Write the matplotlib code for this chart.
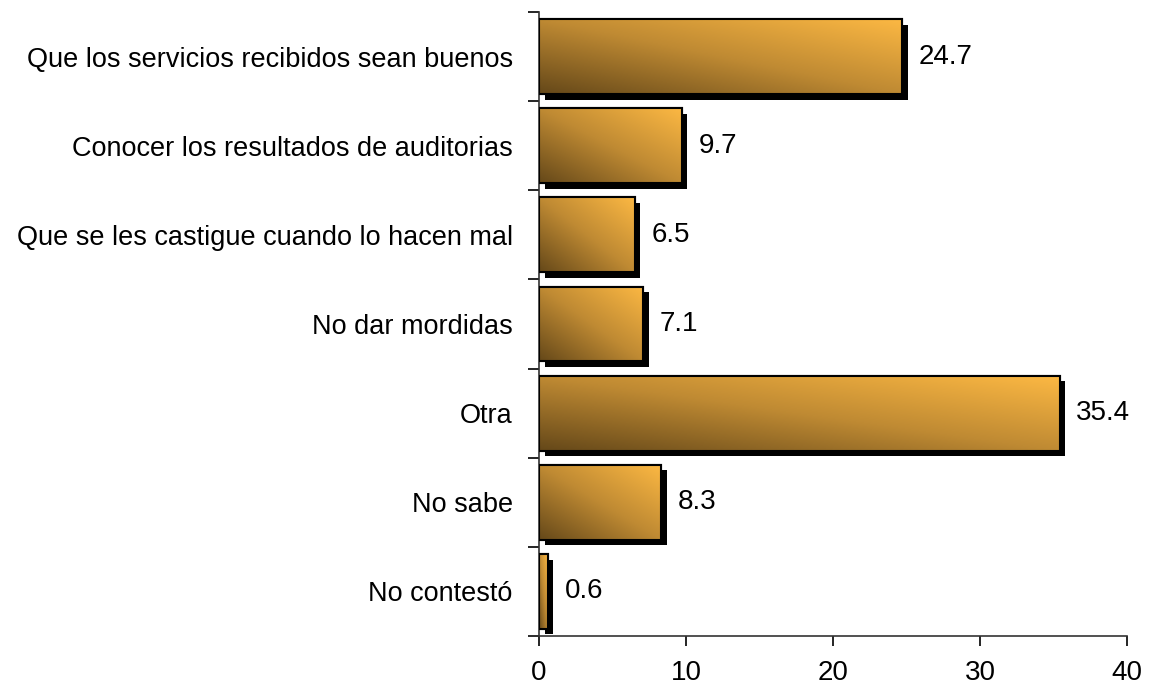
import matplotlib
matplotlib.use("Agg")
import matplotlib.pyplot as plt
import matplotlib.patheffects as pe
from matplotlib.colors import LinearSegmentedColormap
import numpy as np

plt.rcParams['font.family'] = ['Liberation Sans', 'DejaVu Sans']

# data
categories = ['Que los servicios recibidos sean buenos',
              'Conocer los resultados de auditorias',
              'Que se les castigue cuando lo hacen mal',
              'No dar mordidas',
              'Otra',
              'No sabe',
              'No contestó']
values = [24.7, 9.7, 6.5, 7.1, 35.4, 8.3, 0.6]
x_ticks = [0, 10, 20, 30, 40]

fig = plt.figure(figsize=(11.57, 6.87), dpi=100)
ax = fig.add_axes([0.4659, 0.0742, 0.5083, 0.9083])

# dark brown at bottom-left -> bright orange at top-right
cmap = LinearSegmentedColormap.from_list('gold', ['#654819', '#bf8a33', '#fcb843'])

pos = np.arange(len(categories))
bar_h = 0.84
bars = ax.barh(pos, values, height=bar_h, color='#c08a32', edgecolor='black',
               linewidth=1.5, zorder=2)

uu, vv = np.meshgrid(np.linspace(0, 1, 200), np.linspace(0, 1, 100))
grad = (uu + vv) / 2.0  # row 0 = bottom with origin='lower'
for b in bars:
    b.set_path_effects([pe.SimplePatchShadow(offset=(4, -4), shadow_rgbFace='black', alpha=1.0),
                        pe.Normal()])
    x0, y0 = b.get_x(), b.get_y()
    w, h = b.get_width(), b.get_height()
    # y axis is inverted, so visual bottom is y0 + h
    im = ax.imshow(grad, cmap=cmap, extent=[x0, x0 + w, y0 + h, y0], origin='lower',
                   aspect='auto', zorder=3, interpolation='bilinear')
    im.set_clip_path(b)
    ax.add_patch(plt.Rectangle((x0, y0), w, h, fill=False, edgecolor='black',
                               linewidth=1.5, zorder=4))

for p, v in zip(pos, values):
    ax.annotate(f'{v:.1f}', xy=(v, p), xytext=(12, 0), textcoords='offset points',
                va='center', ha='left', fontsize=20)

ax.set_xlim(0, 40)
ax.set_ylim(len(categories) - 0.5, -0.5)
ax.set_xticks(x_ticks)
ax.set_xticklabels([str(t) for t in x_ticks], fontsize=20)
ax.tick_params(axis='x', length=7, width=1.2, pad=10)

ax.set_yticks(np.arange(len(categories) + 1) - 0.5)
ax.set_yticklabels([])
ax.set_yticks(pos, minor=True)
ax.set_yticklabels(categories, minor=True, fontsize=19.5)
ax.tick_params(axis='y', which='major', length=8, width=1.2, direction='out')
ax.tick_params(axis='y', which='minor', length=0, pad=19)

for s in ['top', 'right']:
    ax.spines[s].set_visible(False)
for s in ['left', 'bottom']:
    ax.spines[s].set_linewidth(1.2)
    ax.spines[s].set_color('#333333')
ax.spines['bottom'].set_bounds(-0.7, 40)

plt.savefig('out.png', dpi=100)
